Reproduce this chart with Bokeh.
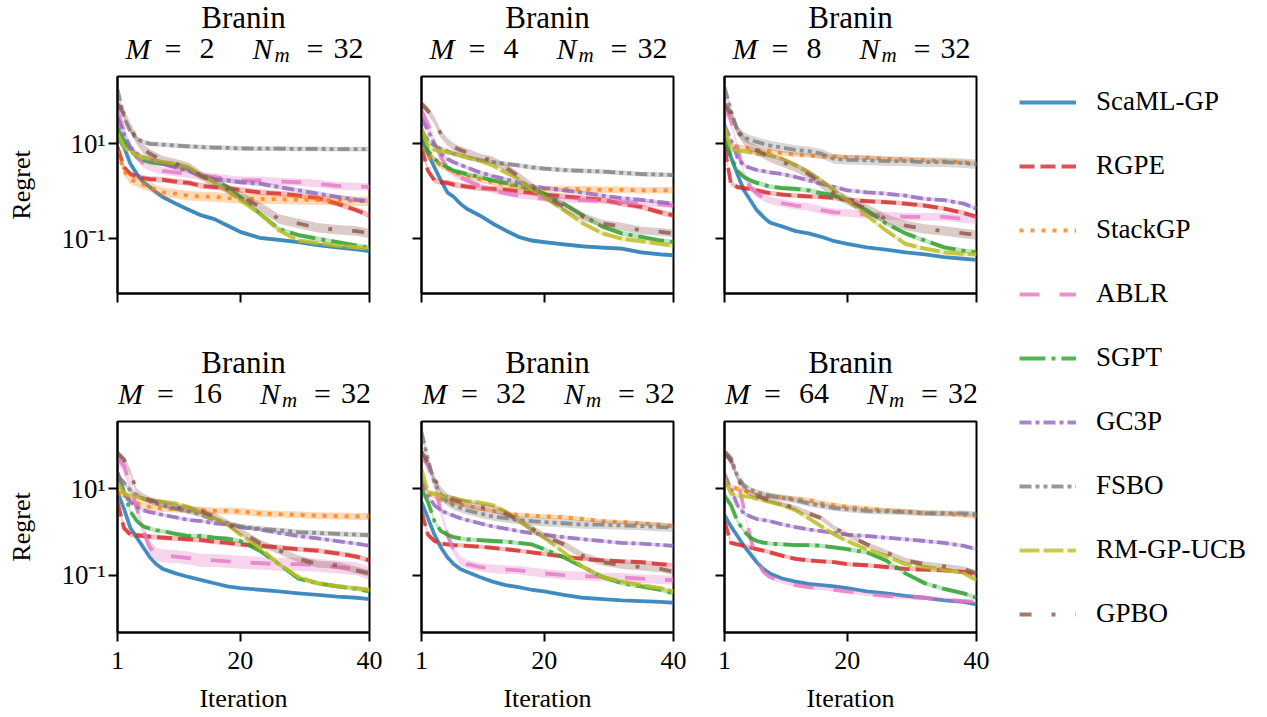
from bokeh.plotting import figure
from bokeh.layouts import row, column
from bokeh.models import Range1d, FixedTicker, Label, Legend, LegendItem
from bokeh.embed import file_html
from bokeh.resources import INLINE

# ---------------- data ----------------
ITERATIONS = [1, 2, 3, 4, 5, 6, 7, 8, 10, 12, 14, 16, 18, 20, 23, 26, 29, 32, 35, 38, 40]
METHODS = ["ScaML-GP", "RGPE", "StackGP", "ABLR", "SGPT", "GC3P", "FSBO", "RM-GP-UCB", "GPBO"]
COLORS = ["#1f77b4", "#d62728", "#ff7f0e", "#e377c2", "#2ca02c", "#9467bd", "#7f7f7f", "#bcbd22", "#8c564b"]
DASHES = ["solid", "15 6", "4 7", "20 20", "26 6 4 6", "12 4 4 4", "12 4 4 4 4 4", "20 4", "12 20 4 20"]
M_VALUES = [2, 4, 8, 16, 32, 64]
N_M = 32
X_TICKS = [1, 20, 40]
Y_TICKS = [0.1, 10]
Y_TICK_LABELS = ["10\u207b\u00b9", "10\u00b9"]

REGRET_M2 = {
    "ScaML-GP": [14, 8.5, 3.8, 2.3, 1.55, 1.23, 0.95, 0.76, 0.55, 0.41, 0.31, 0.26, 0.19, 0.14, 0.105, 0.095, 0.085, 0.074, 0.066, 0.06, 0.055],
    "RGPE": [8.5, 3.2, 2.3, 2.05, 1.9, 1.8, 1.78, 1.75, 1.6, 1.5, 1.3, 1.23, 1.17, 1.07, 0.95, 0.89, 0.81, 0.72, 0.55, 0.4, 0.31],
    "StackGP": [7.2, 2.7, 1.8, 1.55, 1.38, 1.23, 1.08, 0.95, 0.89, 0.81, 0.78, 0.76, 0.72, 0.69, 0.69, 0.68, 0.66, 0.65, 0.65, 0.62, 0.62],
    "ABLR": [50, 19, 8.5, 5.2, 3.8, 3.2, 2.9, 2.7, 2.5, 2.3, 2.1, 2.0, 1.8, 1.7, 1.7, 1.6, 1.55, 1.45, 1.3, 1.26, 1.23],
    "SGPT": [22, 12, 7.2, 5.4, 4.6, 4.1, 3.9, 3.8, 3.5, 3.0, 2.1, 1.7, 1.23, 0.76, 0.34, 0.16, 0.12, 0.1, 0.085, 0.072, 0.065],
    "GC3P": [36, 16, 8.5, 6.2, 5.2, 4.6, 4.2, 3.8, 3.2, 2.7, 2.1, 1.8, 1.7, 1.55, 1.45, 1.23, 1.05, 0.89, 0.76, 0.66, 0.62],
    "FSBO": [140, 36, 18, 12.6, 11, 10, 9.8, 9.6, 9.2, 8.8, 8.5, 8.3, 8.2, 8.0, 7.9, 7.9, 7.8, 7.8, 7.7, 7.7, 7.7],
    "RM-GP-UCB": [16, 8.5, 6.6, 5.7, 5.2, 4.8, 4.4, 4.1, 3.8, 3.2, 2.1, 1.55, 1.05, 0.65, 0.34, 0.15, 0.092, 0.081, 0.072, 0.066, 0.062],
    "GPBO": [69, 43, 22, 12, 7.8, 6.2, 5.2, 4.4, 3.8, 3.2, 2.1, 1.55, 1.12, 0.81, 0.47, 0.26, 0.21, 0.17, 0.155, 0.145, 0.13],
}
REGRET_M4 = {
    "ScaML-GP": [11.7, 6.2, 3.2, 1.7, 0.95, 0.76, 0.55, 0.43, 0.31, 0.21, 0.15, 0.11, 0.092, 0.085, 0.076, 0.069, 0.065, 0.062, 0.052, 0.047, 0.045],
    "RGPE": [8.5, 2.7, 1.7, 1.55, 1.5, 1.38, 1.32, 1.26, 1.17, 1.12, 1.07, 1.0, 0.93, 0.85, 0.78, 0.72, 0.66, 0.55, 0.47, 0.36, 0.31],
    "StackGP": [8.5, 5.7, 4.5, 3.5, 3.0, 2.5, 2.3, 2.1, 1.8, 1.55, 1.38, 1.26, 1.17, 1.12, 1.12, 1.1, 1.07, 1.07, 1.05, 1.05, 1.05],
    "ABLR": [50, 26, 12, 5.2, 3.2, 2.3, 1.95, 1.7, 1.3, 1.05, 0.91, 0.81, 0.76, 0.69, 0.66, 0.65, 0.62, 0.59, 0.56, 0.53, 0.5],
    "SGPT": [19, 7.2, 4.8, 3.8, 3.2, 2.7, 2.5, 2.3, 2.0, 1.7, 1.5, 1.3, 1.12, 0.89, 0.55, 0.31, 0.18, 0.13, 0.11, 0.092, 0.085],
    "GC3P": [34, 19, 10, 6.2, 4.8, 4.1, 3.6, 3.2, 2.5, 2.1, 1.8, 1.55, 1.3, 1.17, 1.05, 0.93, 0.81, 0.72, 0.66, 0.59, 0.55],
    "FSBO": [19, 12, 9.2, 7.8, 7.0, 6.2, 5.7, 5.2, 4.5, 4.1, 3.8, 3.5, 3.2, 3.0, 2.8, 2.7, 2.6, 2.45, 2.3, 2.25, 2.2],
    "RM-GP-UCB": [21, 9.2, 7.4, 7.0, 6.6, 6.2, 5.7, 5.2, 4.5, 3.5, 2.5, 1.8, 1.12, 0.76, 0.4, 0.21, 0.13, 0.1, 0.089, 0.078, 0.072],
    "GPBO": [69, 50, 31, 16, 11, 8.5, 7.4, 6.6, 5.2, 4.5, 3.2, 2.1, 1.3, 0.81, 0.47, 0.29, 0.21, 0.18, 0.15, 0.14, 0.13],
}
REGRET_M8 = {
    "ScaML-GP": [10, 5.2, 2.3, 1.05, 0.65, 0.4, 0.29, 0.22, 0.18, 0.145, 0.13, 0.11, 0.089, 0.078, 0.066, 0.059, 0.052, 0.047, 0.041, 0.038, 0.036],
    "RGPE": [8.5, 1.45, 1.23, 1.17, 1.12, 1.05, 0.97, 0.91, 0.85, 0.81, 0.78, 0.76, 0.72, 0.66, 0.62, 0.59, 0.55, 0.5, 0.43, 0.35, 0.29],
    "StackGP": [11, 9.2, 8.7, 8.3, 7.8, 7.4, 7.2, 7.0, 6.3, 5.9, 5.7, 5.4, 5.4, 5.2, 5.1, 4.8, 4.6, 4.5, 4.3, 4.1, 3.8],
    "ABLR": [59, 31, 8.5, 2.3, 1.23, 0.89, 0.75, 0.65, 0.56, 0.5, 0.47, 0.4, 0.36, 0.35, 0.32, 0.31, 0.29, 0.29, 0.29, 0.26, 0.25],
    "SGPT": [19, 5.2, 2.7, 2.0, 1.7, 1.5, 1.38, 1.26, 1.17, 1.12, 1.05, 0.91, 0.81, 0.65, 0.4, 0.21, 0.13, 0.092, 0.066, 0.056, 0.052],
    "GC3P": [25, 12, 5.2, 3.5, 3.1, 2.8, 2.65, 2.5, 2.3, 2.0, 1.7, 1.45, 1.23, 1.05, 0.95, 0.89, 0.81, 0.69, 0.65, 0.55, 0.43],
    "FSBO": [155, 50, 19, 14, 12, 11, 10, 9.2, 8.3, 7.4, 7.0, 6.2, 4.8, 4.6, 4.5, 4.3, 4.3, 4.1, 4.1, 3.9, 3.7],
    "RM-GP-UCB": [22, 7.8, 7.2, 7.0, 6.6, 6.2, 6.0, 5.7, 4.8, 3.5, 2.5, 1.7, 1.05, 0.65, 0.31, 0.15, 0.078, 0.062, 0.052, 0.048, 0.047],
    "GPBO": [69, 43, 19, 12, 8.5, 7.2, 6.2, 5.2, 4.1, 3.2, 2.3, 1.45, 0.89, 0.65, 0.43, 0.26, 0.19, 0.16, 0.145, 0.13, 0.12],
}
REGRET_M16 = {
    "ScaML-GP": [8.4, 3.5, 1.23, 0.74, 0.44, 0.26, 0.18, 0.14, 0.11, 0.091, 0.077, 0.065, 0.055, 0.05, 0.046, 0.042, 0.038, 0.035, 0.032, 0.03, 0.028],
    "RGPE": [5, 1.23, 0.87, 0.85, 0.81, 0.78, 0.76, 0.74, 0.71, 0.68, 0.65, 0.6, 0.56, 0.52, 0.48, 0.44, 0.4, 0.37, 0.32, 0.27, 0.22],
    "StackGP": [8.4, 7, 5.5, 4.6, 4.2, 3.8, 3.6, 3.5, 3.4, 3.3, 3.2, 3.1, 3.1, 3.0, 2.7, 2.6, 2.5, 2.4, 2.35, 2.3, 2.3],
    "ABLR": [52, 34, 12, 3.5, 1.05, 0.44, 0.31, 0.28, 0.27, 0.25, 0.22, 0.22, 0.21, 0.2, 0.19, 0.18, 0.18, 0.17, 0.155, 0.14, 0.11],
    "SGPT": [24, 8.4, 3.0, 1.8, 1.35, 1.2, 1.1, 1.05, 0.91, 0.81, 0.81, 0.74, 0.7, 0.62, 0.37, 0.18, 0.083, 0.065, 0.055, 0.048, 0.042],
    "GC3P": [24, 8.4, 5, 3.8, 3.2, 2.9, 2.7, 2.5, 2.2, 1.9, 1.8, 1.6, 1.5, 1.3, 1.15, 0.95, 0.81, 0.71, 0.62, 0.54, 0.48],
    "FSBO": [20, 14, 9.2, 7, 5.9, 5.2, 4.6, 4.2, 3.5, 3.0, 2.5, 1.9, 1.6, 1.35, 1.2, 1.1, 1.0, 0.95, 0.91, 0.87, 0.85],
    "RM-GP-UCB": [14, 7.8, 7, 6.5, 5.9, 5.5, 5.2, 5.0, 4.6, 3.8, 2.7, 2.1, 1.5, 0.87, 0.44, 0.18, 0.091, 0.065, 0.056, 0.05, 0.046],
    "GPBO": [68, 48, 24, 8.4, 6.5, 5.5, 5.0, 4.6, 3.8, 3.4, 3.0, 2.3, 1.6, 1.05, 0.56, 0.37, 0.24, 0.18, 0.17, 0.13, 0.11],
}
REGRET_M32 = {
    "ScaML-GP": [5, 2.1, 0.87, 0.44, 0.26, 0.18, 0.14, 0.12, 0.091, 0.071, 0.059, 0.053, 0.046, 0.042, 0.035, 0.03, 0.028, 0.026, 0.025, 0.024, 0.023],
    "RGPE": [3.0, 0.87, 0.62, 0.54, 0.52, 0.5, 0.49, 0.48, 0.46, 0.43, 0.4, 0.37, 0.34, 0.31, 0.27, 0.24, 0.22, 0.21, 0.2, 0.18, 0.17],
    "StackGP": [12, 8.4, 6.5, 5.5, 5, 4.6, 4.3, 4.1, 3.5, 3.1, 2.7, 2.5, 2.4, 2.3, 2.2, 2.0, 1.8, 1.7, 1.6, 1.48, 1.35],
    "ABLR": [62, 34, 12, 3.0, 0.87, 0.37, 0.22, 0.18, 0.155, 0.14, 0.135, 0.13, 0.12, 0.11, 0.1, 0.095, 0.091, 0.089, 0.083, 0.079, 0.077],
    "SGPT": [10, 5, 1.8, 1.05, 0.87, 0.76, 0.71, 0.68, 0.65, 0.62, 0.6, 0.56, 0.52, 0.4, 0.26, 0.155, 0.091, 0.065, 0.055, 0.046, 0.038],
    "GC3P": [17, 7, 4.2, 3.2, 2.7, 2.4, 2.1, 1.9, 1.6, 1.35, 1.2, 1.05, 0.95, 0.87, 0.76, 0.68, 0.62, 0.56, 0.54, 0.5, 0.48],
    "FSBO": [210, 48, 14, 7, 5, 4.1, 3.6, 3.2, 2.7, 2.3, 2.1, 1.9, 1.8, 1.7, 1.6, 1.5, 1.48, 1.42, 1.38, 1.3, 1.28],
    "RM-GP-UCB": [28, 8.4, 7.8, 7, 6.5, 6.2, 5.6, 5.2, 4.8, 4.2, 3.0, 1.9, 1.15, 0.74, 0.34, 0.155, 0.091, 0.071, 0.059, 0.05, 0.042],
    "GPBO": [74, 40, 17, 9.2, 6.5, 5.5, 5.0, 4.6, 3.8, 3.5, 2.7, 1.9, 1.23, 0.81, 0.52, 0.28, 0.2, 0.17, 0.155, 0.14, 0.12],
}
REGRET_M64 = {
    "ScaML-GP": [2.5, 1.35, 0.81, 0.48, 0.31, 0.2, 0.14, 0.11, 0.083, 0.071, 0.063, 0.059, 0.055, 0.05, 0.042, 0.038, 0.033, 0.03, 0.026, 0.024, 0.021],
    "RGPE": [1.8, 0.56, 0.52, 0.48, 0.44, 0.4, 0.37, 0.34, 0.28, 0.24, 0.22, 0.21, 0.2, 0.18, 0.17, 0.155, 0.14, 0.135, 0.13, 0.12, 0.1],
    "StackGP": [14, 11, 10, 9.2, 8.1, 7.3, 7.0, 6.8, 6.3, 5.9, 5.5, 4.6, 4.2, 3.8, 3.5, 3.2, 3.0, 2.7, 2.7, 2.5, 2.3],
    "ABLR": [68, 48, 17, 3.5, 0.74, 0.22, 0.12, 0.091, 0.071, 0.059, 0.053, 0.05, 0.046, 0.042, 0.037, 0.033, 0.031, 0.03, 0.027, 0.025, 0.024],
    "SGPT": [7, 4.2, 1.8, 1.05, 0.74, 0.62, 0.57, 0.54, 0.52, 0.5, 0.5, 0.48, 0.44, 0.4, 0.34, 0.22, 0.11, 0.065, 0.048, 0.038, 0.03],
    "GC3P": [22, 10, 4.2, 2.7, 2.3, 2.0, 1.9, 1.8, 1.5, 1.3, 1.15, 1.05, 0.95, 0.87, 0.81, 0.74, 0.68, 0.62, 0.56, 0.48, 0.4],
    "FSBO": [74, 52, 20, 12, 9.6, 8.4, 7.6, 7, 6.2, 5.5, 4.6, 4.1, 3.6, 3.4, 3.1, 3.0, 2.9, 2.75, 2.7, 2.7, 2.6],
    "RM-GP-UCB": [17, 7.8, 7, 6.8, 6.5, 5.9, 5.4, 5.0, 4.2, 3.2, 2.1, 1.35, 0.87, 0.62, 0.4, 0.28, 0.18, 0.155, 0.135, 0.112, 0.077],
    "GPBO": [68, 44, 17, 10, 7.8, 6.8, 6.1, 5.5, 4.4, 3.6, 2.7, 2.1, 1.23, 0.87, 0.52, 0.34, 0.22, 0.18, 0.16, 0.14, 0.11],
}
# half-width of the shaded band (log10 units), in METHODS order
BAND_M2 = [0.04, 0.06, 0.1, 0.08, 0.05, 0.05, 0.05, 0.05, 0.1]
BAND_M4 = [0.04, 0.06, 0.07, 0.06, 0.05, 0.04, 0.05, 0.05, 0.08]
BAND_M8 = [0.03, 0.05, 0.05, 0.08, 0.05, 0.04, 0.1, 0.05, 0.1]
BAND_M16 = [0.03, 0.06, 0.08, 0.15, 0.05, 0.04, 0.06, 0.05, 0.08]
BAND_M32 = [0.03, 0.05, 0.05, 0.1, 0.05, 0.04, 0.1, 0.05, 0.08]
BAND_M64 = [0.03, 0.05, 0.06, 0.05, 0.05, 0.04, 0.07, 0.05, 0.06]

PANELS = [(2, REGRET_M2, BAND_M2), (4, REGRET_M4, BAND_M4), (8, REGRET_M8, BAND_M8),
          (16, REGRET_M16, BAND_M16), (32, REGRET_M32, BAND_M32), (64, REGRET_M64, BAND_M64)]

# ---------------- layout / style ----------------
FONT = "Liberation Serif"
FW = 252
FH = [217, 216]
LEFT = [117, 38, 37]
RIGHT = 14
TITLE_H = 72
TOP = 4
BOTTOM = [52, 78]
YR = [(0.00705, 261), (0.0047, 365)]
LW = 3.8


def title_fig(M, c):
    t = figure(width=LEFT[c] + FW + RIGHT, height=TITLE_H, x_range=Range1d(0, FW),
               y_range=Range1d(0, TITLE_H), x_axis_type=None, y_axis_type=None,
               toolbar_location=None, output_backend="svg",
               min_border_left=LEFT[c], min_border_right=RIGHT, min_border_top=0, min_border_bottom=0)
    t.outline_line_color = None
    t.grid.visible = False
    cx = FW / 2
    t.add_layout(Label(x=cx, y=55, text="Branin", text_align="center", text_baseline="alphabetic",
                       text_font=FONT, text_font_size="31px", text_color="black"))
    extra = 15 if M >= 10 else 0
    total = 240 + extra
    x0 = cx - total / 2
    y = 24
    pieces = [("M", 2, "italic", 30, 0), ("=", 41, "normal", 30, 0), (str(M), 76, "normal", 30, 0),
              ("N", 129 + extra, "italic", 30, 0), ("m", 151 + extra, "italic", 21, -6),
              ("=", 183 + extra, "normal", 30, 0), (str(N_M), 210 + extra, "normal", 30, 0)]
    for txt, dx, style, size, dy in pieces:
        t.add_layout(Label(x=x0 + dx, y=y + dy, text=txt, text_align="left", text_baseline="alphabetic",
                           text_font=FONT, text_font_style=style, text_font_size=f"{size}px",
                           text_color="black"))
    return t


title_rows = [[], []]
panel_rows = [[], []]
for idx, (M, data, band) in enumerate(PANELS):
    r, c = divmod(idx, 3)
    p = figure(width=LEFT[c] + FW + RIGHT, height=TOP + FH[r] + BOTTOM[r],
               y_axis_type="log", x_range=Range1d(1, 40), y_range=Range1d(*YR[r]),
               output_backend="svg", toolbar_location=None,
               min_border_left=LEFT[c], min_border_right=RIGHT,
               min_border_top=TOP, min_border_bottom=BOTTOM[r])
    p.grid.visible = False
    p.outline_line_color = "black"
    p.outline_line_width = 2
    p.outline_line_alpha = 1

    xa, ya = p.xaxis[0], p.yaxis[0]
    xa.ticker = FixedTicker(ticks=X_TICKS, minor_ticks=[])
    ya.ticker = FixedTicker(ticks=Y_TICKS, minor_ticks=[])
    for ax in (xa, ya):
        ax.axis_line_width = 2
        ax.axis_line_color = "black"
        ax.major_tick_line_width = 2
        ax.major_tick_line_color = "black"
        ax.major_tick_out = 9
        ax.major_tick_in = 0
        ax.minor_tick_out = 0
        ax.minor_tick_in = 0
        ax.major_label_text_font = FONT
        ax.major_label_text_color = "black"
        ax.axis_label_text_font = FONT
        ax.axis_label_text_font_size = "26px"
        ax.axis_label_text_font_style = "normal"
        ax.axis_label_text_color = "black"
    xa.major_label_text_font_size = "26px"
    ya.major_label_text_font_size = "27px"
    xa.major_label_standoff = 10
    ya.major_label_standoff = 3
    if c == 0:
        ya.major_label_overrides = {Y_TICKS[0]: Y_TICK_LABELS[0], Y_TICKS[1]: Y_TICK_LABELS[1]}
        ya.axis_label = "Regret"
        ya.axis_label_standoff = 22
    else:
        ya.major_label_text_color = None
    if r == 0:
        xa.major_label_text_color = None
    else:
        xa.axis_label = "Iteration"
        xa.axis_label_standoff = 12

    for i, name in enumerate(METHODS):
        vals = data[name]
        lo = [v * 10 ** (-band[i]) for v in vals]
        hi = [v * 10 ** (band[i]) for v in vals]
        p.varea(x=ITERATIONS, y1=lo, y2=hi, fill_color=COLORS[i], fill_alpha=0.3)
        p.line(x=ITERATIONS, y=vals, line_color=COLORS[i], line_width=LW, line_alpha=0.8,
               line_dash=DASHES[i], line_join="round")

    title_rows[r].append(title_fig(M, c))
    panel_rows[r].append(p)

grid = column(row(*title_rows[0]), row(*panel_rows[0]), row(*title_rows[1]), row(*panel_rows[1]))

# legend panel (its lines lie outside the visible x range; only the legend shows)
total_h = 2 * TITLE_H + 2 * TOP + FH[0] + FH[1] + BOTTOM[0] + BOTTOM[1]
leg = figure(width=269, height=total_h, x_range=Range1d(-3, -2), y_range=Range1d(0, 1),
             x_axis_type=None, y_axis_type=None, toolbar_location=None, output_backend="svg",
             min_border_left=29, min_border_right=0, min_border_top=86, min_border_bottom=0)
leg.outline_line_color = None
leg.grid.visible = False
items = []
for i, name in enumerate(METHODS):
    rr = leg.line(x=ITERATIONS, y=REGRET_M2[name], line_color=COLORS[i], line_width=LW,
                  line_alpha=0.8, line_dash=DASHES[i])
    items.append(LegendItem(label=name, renderers=[rr]))
legend = Legend(items=items, location="top_left", glyph_width=57, glyph_height=30, label_height=30,
                spacing=33, padding=0, margin=0, label_standoff=20, border_line_alpha=0,
                background_fill_alpha=0, label_text_font=FONT, label_text_font_size="27px",
                label_text_color="black")
leg.add_layout(legend)

layout = row(grid, leg)
open("out.html", "w").write(file_html(layout, INLINE, title="Branin regret"))
